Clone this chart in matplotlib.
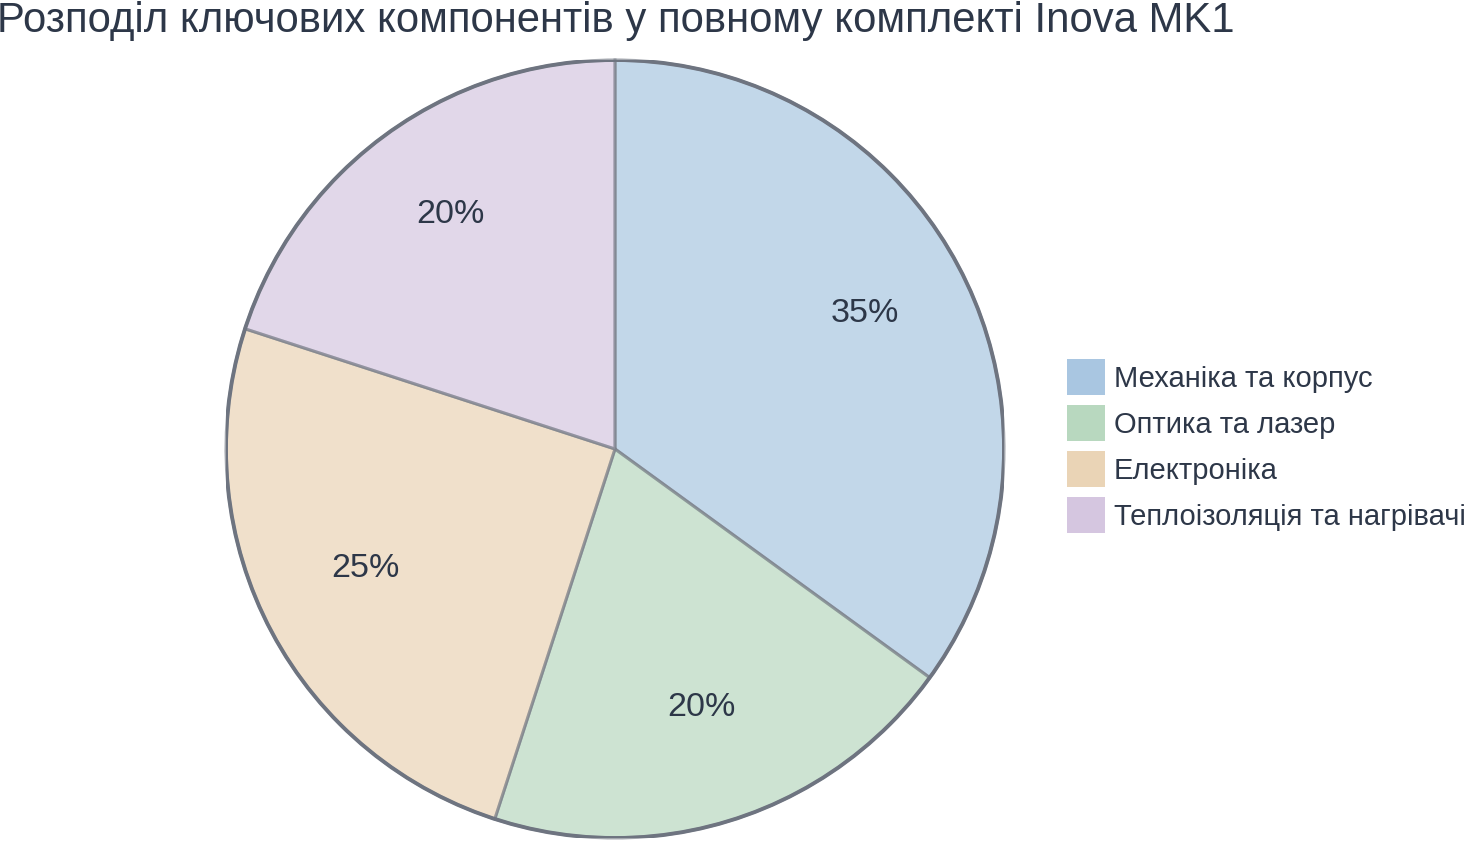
import matplotlib
matplotlib.use("Agg")
import matplotlib.pyplot as plt
from matplotlib.patches import Patch, Circle
from matplotlib import font_manager

labels = ["Механіка та корпус", "Оптика та лазер", "Електроніка", "Теплоізоляція та нагрівачі"]
shares = [35, 20, 25, 20]
colors = ["#a9c6e1", "#b8d8bf", "#ead4b6", "#d5c6e0"]

text_color = "#2d3748"
edge_color = "#7d828c"

names = {f.name for f in font_manager.fontManager.ttflist}
title_font = "Liberation Sans Narrow" if "Liberation Sans Narrow" in names else "Liberation Sans"
plt.rcParams["font.family"] = ["Liberation Sans", "DejaVu Sans"]

W, H = 1466, 841
fig = plt.figure(figsize=(W / 100, H / 100), dpi=100)

# pie centre and radius in pixels
cx, cy, r = 615, 449, 389
ax = fig.add_axes([(cx - r) / W, (H - cy - r) / H, 2 * r / W, 2 * r / H])

wedges, texts, autotexts = ax.pie(
    shares, colors=colors, startangle=90, counterclock=False, radius=1,
    autopct="%d%%", pctdistance=0.72,
    wedgeprops=dict(edgecolor=edge_color, linewidth=2.2, alpha=0.7),
    textprops=dict(color=text_color, fontsize=24.5),
)
for w in wedges:
    w.set_edgecolor(edge_color)
# labels sit a little higher in the reference
for t in autotexts:
    x, y = t.get_position()
    t.set_position((x, y + 8 / r))
ax.add_patch(Circle((0, 0), 1, fill=False, edgecolor="#6e7480", linewidth=2.8))
ax.set_xlim(-1, 1)
ax.set_ylim(-1, 1)
ax.axis("off")

fig.text(-0.002, 1 - 32 / H, "Розподіл ключових компонентів у повному комплекті Inova MK1",
         fontsize=30.2, color=text_color, family=[title_font, "DejaVu Sans"],
         ha="left", va="baseline")

handles = [Patch(facecolor=c, edgecolor="none") for c in colors]
fig.legend(handles, labels, loc="center left", bbox_to_anchor=(1067 / W, 1 - 446 / H),
           frameon=False, fontsize=21, labelcolor=text_color,
           handlelength=1.3, handleheight=1.54, handletextpad=0.31,
           labelspacing=0.33, borderaxespad=0, borderpad=0)

fig.savefig("out.png", dpi=100)
